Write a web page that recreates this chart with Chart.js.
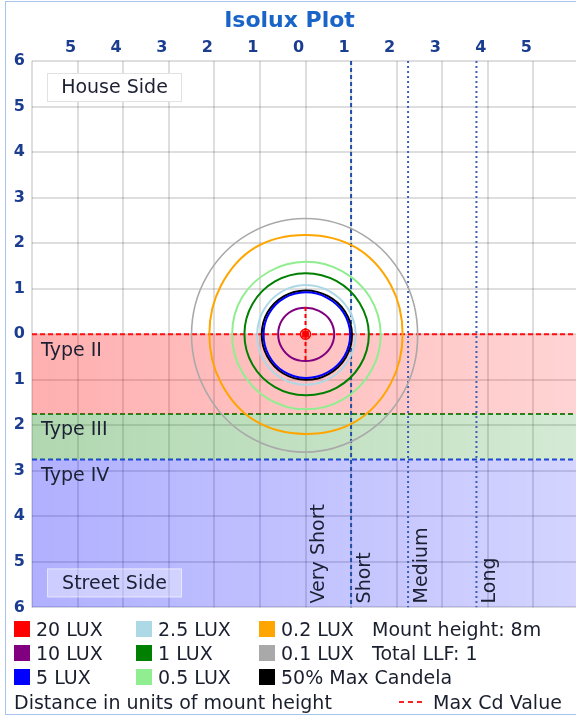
<!DOCTYPE html>
<html>
<head>
<meta charset="utf-8">
<script src="https://cdn.jsdelivr.net/npm/chart.js@4.4.1/dist/chart.umd.min.js"></script>
<style>
  html, body { margin: 0; padding: 0; background: #fff; overflow: hidden; }
  body { width: 576px; height: 717px; position: relative; font-family: 'DejaVu Sans', sans-serif; color: #1a1f2e; }
  #frame { position: absolute; left: 5px; top: 1px; width: 600px; height: 714px; border: 1px solid #a9c4ea; border-right: none; box-sizing: border-box; z-index: 2; pointer-events: none; }
  #plot { position: absolute; left: 0; top: 0; }
  .item { position: absolute; display: flex; align-items: center; height: 20px; line-height: 20px; font-size: 19px; white-space: nowrap; }
  .swatch { width: 16px; height: 16px; margin-right: 6px; }
</style>
</head>
<body>
<div id="frame"></div>
<canvas id="plot" width="584" height="624"></canvas>
<div id="legend"></div>
<script>
const FONT = "'DejaVu Sans', sans-serif";

// axis tick labels, from -6 to 6 (distance in mount heights)
const xTickLabels = ['', '5', '4', '3', '2', '1', '0', '1', '2', '3', '4', '5', ''];
const yTickLabels = ['6', '5', '4', '3', '2', '1', '0', '1', '2', '3', '4', '5', '6'];

// IES lateral types (street side), in mount heights
const bandNames = ['Type II', 'Type III', 'Type IV'];
const bandFrom = [0, 1.75, 2.75];
const bandTo = [1.75, 2.75, 6];
const bandRgb = ['255,0,0', '0,128,0', '0,0,255'];
const bandLine = ['#ff1010', '#1a8a1a', '#2040e8'];

// longitudinal classes
const throwNames = ['Very Short', 'Short', 'Medium', 'Long'];
const throwFrom = [0, 1, 2.25, 3.75];

// isolux contours: radius (mount heights) at each angle, 0 = right, 90 = house side
const angles = [0, 30, 60, 90, 120, 150, 180, 210, 240, 270, 300, 330];
const r20 = [0.11, 0.11, 0.11, 0.11, 0.11, 0.11, 0.11, 0.11, 0.11, 0.11, 0.11, 0.11];
const r10 = [0.63, 0.62, 0.59, 0.58, 0.59, 0.60, 0.60, 0.60, 0.60, 0.59, 0.60, 0.62];
const r5 = [0.98, 0.96, 0.93, 0.92, 0.92, 0.92, 0.92, 0.93, 0.95, 0.96, 0.97, 0.98];
const r2_5 = [1.10, 1.09, 1.08, 1.08, 1.07, 1.06, 1.06, 1.08, 1.10, 1.11, 1.11, 1.10];
const r1 = [1.39, 1.37, 1.35, 1.34, 1.34, 1.34, 1.34, 1.34, 1.34, 1.34, 1.36, 1.38];
const r0_5 = [1.65, 1.63, 1.60, 1.59, 1.59, 1.61, 1.61, 1.62, 1.64, 1.65, 1.65, 1.65];
const r0_2 = [2.13, 2.16, 2.20, 2.18, 2.20, 2.14, 2.11, 2.14, 2.20, 2.19, 2.21, 2.16];
const r0_1 = [2.46, 2.48, 2.52, 2.54, 2.53, 2.51, 2.50, 2.52, 2.57, 2.59, 2.55, 2.50];
const rHalfMax = [1.02, 1.00, 0.97, 0.96, 0.96, 0.96, 0.96, 0.97, 0.99, 1.00, 1.01, 1.02];

const contourLabels = ['20 LUX', '10 LUX', '5 LUX', '2.5 LUX', '1 LUX', '0.5 LUX', '0.2 LUX', '0.1 LUX', '50% Max Candela'];
const contourRadii = [r20, r10, r5, r2_5, r1, r0_5, r0_2, r0_1, rHalfMax];
const contourColors = ['#ff0000', '#800080', '#0000ff', '#add8e6', '#008000', '#90ee90', '#ffa500', '#a9a9a9', '#000000'];
const contourOrder = [2, 3, 4, 6, 7, 8, 9, 10, 5];

// max candela point and its marker line
const maxCdAt = [0, 0];
const maxCdSpan = [0.6, -0.6];

const mountHeight = '8m';
const totalLLF = 1;

function ring(radii) {
  const pts = radii.map((r, i) => ({
    x: r * Math.cos(angles[i] * Math.PI / 180),
    y: r * Math.sin(angles[i] * Math.PI / 180)
  }));
  const n = pts.length;
  // pad both ends so the spline closes smoothly, the pad segments are hidden
  return [pts[n - 1], ...pts, pts[0], pts[1]];
}

function bandFill(rgb) {
  return (ctx) => {
    const area = ctx.chart.chartArea;
    if (!area) return `rgba(${rgb},0.3)`;
    const g = ctx.chart.ctx.createLinearGradient(area.left, 0, area.right, 0);
    g.addColorStop(0, `rgba(${rgb},0.31)`);
    g.addColorStop(1, `rgba(${rgb},0.17)`);
    return g;
  };
}

const datasets = [];

datasets.push({
  label: 'Max Cd',
  data: [{ x: maxCdAt[0], y: maxCdAt[1] }],
  pointStyle: 'rect',
  pointRadius: 4,
  pointBackgroundColor: '#ff0000',
  pointBorderColor: '#ff0000',
  order: 0
});
datasets.push({
  label: 'Max Cd Value',
  data: maxCdSpan.map(v => ({ x: maxCdAt[0], y: v })),
  showLine: true,
  borderColor: '#ff0000',
  borderWidth: 2,
  borderDash: [4, 3],
  pointRadius: 0,
  order: 1
});

contourLabels.forEach((label, i) => {
  const pts = ring(contourRadii[i]);
  const last = pts.length - 2;
  datasets.push({
    label,
    data: pts,
    showLine: true,
    tension: 0.35,
    borderColor: contourColors[i],
    borderWidth: i === 0 ? 1.5 : (i === 7 ? 1.6 : 2),
    pointRadius: 0,
    segment: {
      borderColor: s => (s.p0DataIndex === 0 || s.p0DataIndex === last) ? 'rgba(0,0,0,0)' : undefined
    },
    order: contourOrder[i]
  });
});

throwFrom.forEach((v, i) => {
  if (i === 0) return;
  datasets.push({
    label: throwNames[i],
    data: [{ x: v, y: 6 }, { x: v, y: -6 }],
    showLine: true,
    borderColor: i === 1 ? '#1f4fa8' : '#3a5fb8',
    borderWidth: 2,
    borderDash: i === 1 ? [4, 3] : [2, 3],
    pointRadius: 0,
    order: 15
  });
});

bandNames.forEach((name, i) => {
  datasets.push({
    label: name,
    data: [{ x: -6, y: -bandFrom[i] }, { x: 6, y: -bandFrom[i] }],
    showLine: true,
    borderColor: bandLine[i],
    borderWidth: 2,
    borderDash: [5, 3],
    pointRadius: 0,
    fill: { value: -bandTo[i] },
    backgroundColor: bandFill(bandRgb[i]),
    order: 20 + i
  });
});

function sideBox(ctx, x, y, w, h, bg, edge, text) {
  ctx.fillStyle = bg;
  ctx.fillRect(x, y, w, h);
  ctx.strokeStyle = edge;
  ctx.lineWidth = 1;
  ctx.strokeRect(x + 0.5, y + 0.5, w - 1, h - 1);
  ctx.fillStyle = '#1c2033';
  ctx.textAlign = 'center';
  ctx.textBaseline = 'middle';
  ctx.fillText(text, x + w / 2, y + h / 2 + 1);
}

const overlay = {
  id: 'overlay',
  afterDatasetsDraw(chart) {
    const { ctx, chartArea: a, scales: { x, y } } = chart;
    ctx.save();
    ctx.font = `19px ${FONT}`;
    sideBox(ctx, a.left + 15, a.top + 12, 135, 29, 'rgba(255,255,255,0.95)', '#e2e2e2', 'House Side');
    sideBox(ctx, a.left + 15, a.bottom - 39, 135, 29, 'rgba(255,255,255,0.35)', 'rgba(255,255,255,0.45)', 'Street Side');

    ctx.fillStyle = '#1c2033';
    ctx.textAlign = 'left';
    ctx.textBaseline = 'top';
    bandNames.forEach((n, i) => {
      ctx.fillText(n, a.left + 9, y.getPixelForValue(-bandFrom[i]) + 7);
    });

    throwNames.forEach((n, i) => {
      ctx.save();
      ctx.translate(x.getPixelForValue(throwFrom[i]) + 4, a.bottom - 4);
      ctx.rotate(-Math.PI / 2);
      ctx.textAlign = 'left';
      ctx.textBaseline = 'top';
      ctx.fillText(n, 0, 0);
      ctx.restore();
    });
    ctx.restore();
  }
};

const GRID = 'rgba(0,0,0,0.13)';
const TICK = '#1b3d8f';

new Chart(document.getElementById('plot'), {
  type: 'scatter',
  data: { datasets },
  options: {
    responsive: false,
    animation: false,
    devicePixelRatio: 1,
    layout: { padding: { left: 0, right: 5, top: 0, bottom: 10 } },
    plugins: {
      legend: { display: false },
      tooltip: { enabled: false },
      title: {
        display: true,
        text: 'Isolux Plot',
        color: '#1a64c8',
        font: { family: FONT, size: 22, weight: 'bold' },
        padding: { top: 8, bottom: 0 }
      }
    },
    scales: {
      x: {
        type: 'linear',
        position: 'top',
        min: -6,
        max: 6,
        afterFit: s => { s.height = 26.6; },
        ticks: {
          stepSize: 1,
          autoSkip: false,
          maxRotation: 0,
          padding: 4,
          labelOffset: -7,
          color: TICK,
          font: { family: FONT, size: 16, weight: 'bold' },
          callback: (v, i) => xTickLabels[i]
        },
        grid: { color: GRID, lineWidth: 2, drawTicks: false },
        border: { display: false }
      },
      y: {
        type: 'linear',
        min: -6,
        max: 6,
        afterFit: s => { s.width = 32; },
        ticks: {
          stepSize: 1,
          autoSkip: false,
          padding: 7,
          color: TICK,
          font: { family: FONT, size: 16, weight: 'bold' },
          callback: (v, i) => yTickLabels[i]
        },
        grid: { color: GRID, lineWidth: 2, drawTicks: false },
        border: { display: false }
      }
    }
  },
  plugins: [overlay]
});

// legend below the plot
const legend = document.getElementById('legend');
const colX = [14, 136, 259];
const rowY = [629, 653, 677];
function addItem(left, centerY, html) {
  const d = document.createElement('div');
  d.className = 'item';
  d.style.left = left + 'px';
  d.style.top = (centerY - 10) + 'px';
  d.innerHTML = html;
  legend.appendChild(d);
}
contourLabels.forEach((label, i) => {
  const col = Math.floor(i / 3), row = i % 3;
  addItem(colX[col], rowY[row], `<span class="swatch" style="background:${contourColors[i]}"></span>${label}`);
});
addItem(372, rowY[0], `Mount height: ${mountHeight}`);
addItem(372, rowY[1], `Total LLF: ${totalLLF}`);
addItem(14, 702, 'Distance in units of mount height');
addItem(399, 702, '<svg width="27" height="4" style="margin-right:7px"><line x1="0" y1="2" x2="27" y2="2" stroke="#ff2020" stroke-width="2" stroke-dasharray="5,4"/></svg>Max Cd Value');
</script>
</body>
</html>
